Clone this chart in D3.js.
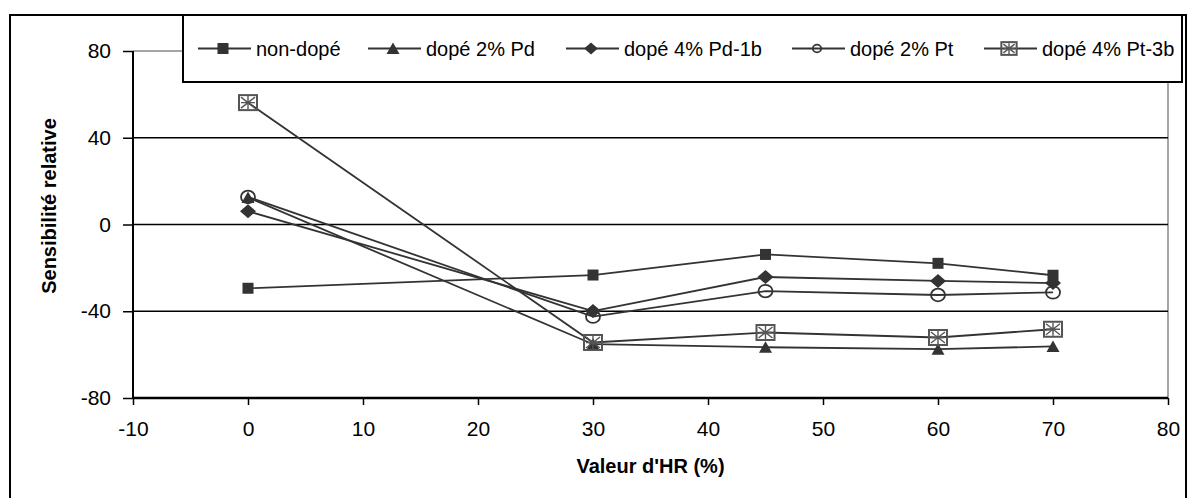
<!DOCTYPE html>
<html><head><meta charset="utf-8">
<script src="https://cdn.jsdelivr.net/npm/d3@7"></script>
<style>body{margin:0;background:#fff}svg{display:block}text{font-family:"Liberation Sans",Arial,sans-serif}</style>
</head><body>
<svg id="c" width="1187" height="498"></svg>
<script>
const xValues = [0, 30, 45, 60, 70];
const seriesNames = ["non-dopé", "dopé 2% Pd", "dopé 4% Pd-1b", "dopé 2% Pt", "dopé 4% Pt-3b"];
const nonDope = [-29.4, -23.3, -13.8, -17.9, -23.4];
const dope2Pd = [12.5, -55.2, -56.6, -57.5, -56.2];
const dope4Pd1b = [6.1, -39.9, -24.2, -26.0, -27.0];
const dope2Pt = [12.7, -42.5, -30.7, -32.5, -31.3];
const dope4Pt3b = [56.2, -54.4, -49.8, -52.1, -48.3];
const xTicks = [-10, 0, 10, 20, 30, 40, 50, 60, 70, 80];
const yTicks = [-80, -40, 0, 40, 80];
const xTitle = "Valeur d'HR (%)";
const yTitle = "Sensibilité relative";

const series = [
  {name: seriesNames[0], values: nonDope, marker: "square"},
  {name: seriesNames[1], values: dope2Pd, marker: "triangle"},
  {name: seriesNames[2], values: dope4Pd1b, marker: "diamond"},
  {name: seriesNames[3], values: dope2Pt, marker: "circle"},
  {name: seriesNames[4], values: dope4Pt3b, marker: "boxstar"}
];

const svg = d3.select("#c");
const L = 133, R = 1168, T = 51, B = 398;
const x = d3.scaleLinear().domain([-10, 80]).range([L, R]);
const y = d3.scaleLinear().domain([-80, 80]).range([B, T]);
const dark = "#333";

// outer frame
svg.append("rect").attr("x", 10).attr("y", 15).attr("width", 1176).attr("height", 500)
  .attr("fill", "none").attr("stroke", "#000").attr("stroke-width", 2);

// plot border (gray) top & right
svg.append("line").attr("x1", L).attr("x2", R).attr("y1", y(80)).attr("y2", y(80)).attr("stroke", "#888").attr("stroke-width", 1.5);
svg.append("line").attr("x1", R).attr("x2", R).attr("y1", T).attr("y2", B).attr("stroke", "#888").attr("stroke-width", 1.5);

// gridlines
svg.append("g").selectAll("line").data(yTicks.filter(d => d > -80 && d < 80)).join("line")
  .attr("x1", L).attr("x2", R).attr("y1", d => y(d)).attr("y2", d => y(d))
  .attr("stroke", "#000").attr("stroke-width", 1.5);

// axes
const fmt = d => String(d);
const yAxis = svg.append("g").attr("transform", `translate(${L},0)`)
  .call(d3.axisLeft(y).tickValues(yTicks).tickSize(10).tickPadding(12).tickFormat(fmt));
const xAxis = svg.append("g").attr("transform", `translate(0,${B})`)
  .call(d3.axisBottom(x).tickValues(xTicks).tickSize(7).tickPadding(16).tickFormat(fmt));
[yAxis, xAxis].forEach(a => {
  a.select(".domain").remove();
  a.selectAll("line").attr("stroke", "#000").attr("stroke-width", 1.5);
  a.selectAll("text").attr("font-size", 21).attr("fill", "#000").attr("font-family", "Liberation Sans, Arial, sans-serif");
});
svg.append("line").attr("x1", L).attr("x2", L).attr("y1", T).attr("y2", B).attr("stroke", "#000").attr("stroke-width", 2);
svg.append("line").attr("x1", L).attr("x2", R).attr("y1", B).attr("y2", B).attr("stroke", "#000").attr("stroke-width", 2.5);

// titles
svg.append("text").attr("x", (L + R) / 2).attr("y", 473).attr("text-anchor", "middle")
  .attr("font-size", 20).attr("font-weight", "bold").text(xTitle);
svg.append("text").attr("transform", `translate(56,${206}) rotate(-90)`).attr("text-anchor", "middle")
  .attr("font-size", 20).attr("font-weight", "bold").text(yTitle);

// marker drawing
function drawMarker(g, type, cx, cy, k) {
  k = k || 1;
  if (type === "square") {
    const s = 5.5 * k;
    g.append("rect").attr("x", cx - s).attr("y", cy - s).attr("width", 2 * s).attr("height", 2 * s).attr("fill", dark);
  } else if (type === "triangle") {
    g.append("path").attr("d", `M${cx},${cy - 6 * k}L${cx + 6.5 * k},${cy + 5.5 * k}L${cx - 6.5 * k},${cy + 5.5 * k}Z`).attr("fill", dark);
  } else if (type === "diamond") {
    g.append("path").attr("d", `M${cx},${cy - 7 * k}L${cx + 8 * k},${cy}L${cx},${cy + 7 * k}L${cx - 8 * k},${cy}Z`).attr("fill", dark);
  } else if (type === "circle") {
    g.append("ellipse").attr("cx", cx).attr("cy", cy).attr("rx", 7 * k).attr("ry", 6.3 * k)
      .attr("fill", "none").attr("stroke", dark).attr("stroke-width", 1.8);
  } else if (type === "boxstar") {
    const w = 9 * k, h = 7.5 * k;
    g.append("rect").attr("x", cx - w).attr("y", cy - h).attr("width", 2 * w).attr("height", 2 * h)
      .attr("fill", "none").attr("stroke", "#555").attr("stroke-width", 2);
    const p = `M${cx - w + 2},${cy - h + 2}L${cx + w - 2},${cy + h - 2}M${cx + w - 2},${cy - h + 2}L${cx - w + 2},${cy + h - 2}M${cx},${cy - h + 1}L${cx},${cy + h - 1}M${cx - w + 2},${cy}L${cx + w - 2},${cy}`;
    g.append("path").attr("d", p).attr("stroke", "#555").attr("stroke-width", 1.4).attr("fill", "none");
  }
}

const line = d3.line().x((d, i) => x(xValues[i])).y(d => y(d));
const sg = svg.append("g");
series.forEach(s => {
  sg.append("path").attr("d", line(s.values)).attr("fill", "none").attr("stroke", dark).attr("stroke-width", 1.8);
});
series.forEach(s => {
  const g = sg.append("g");
  s.values.forEach((v, i) => drawMarker(g, s.marker, x(xValues[i]), y(v)));
});

// legend
const lg = svg.append("g");
lg.append("rect").attr("x", 183).attr("y", 15).attr("width", 999).attr("height", 67)
  .attr("fill", "#fff").attr("stroke", "#000").attr("stroke-width", 2);
const legendX = [198, 368, 566, 792, 984];
const legendK = [1, 1, 0.85, 0.6, 0.85];
const ly = 48.5;
series.forEach((s, i) => {
  const x0 = legendX[i];
  lg.append("line").attr("x1", x0).attr("x2", x0 + 53).attr("y1", ly).attr("y2", ly).attr("stroke", dark).attr("stroke-width", 1.8);
  drawMarker(lg, s.marker, x0 + 25, ly, legendK[i]);
  lg.append("text").attr("x", x0 + 58).attr("y", ly + 7).attr("font-size", 20).attr("fill", "#000").text(s.name);
});
</script>
</body></html>
